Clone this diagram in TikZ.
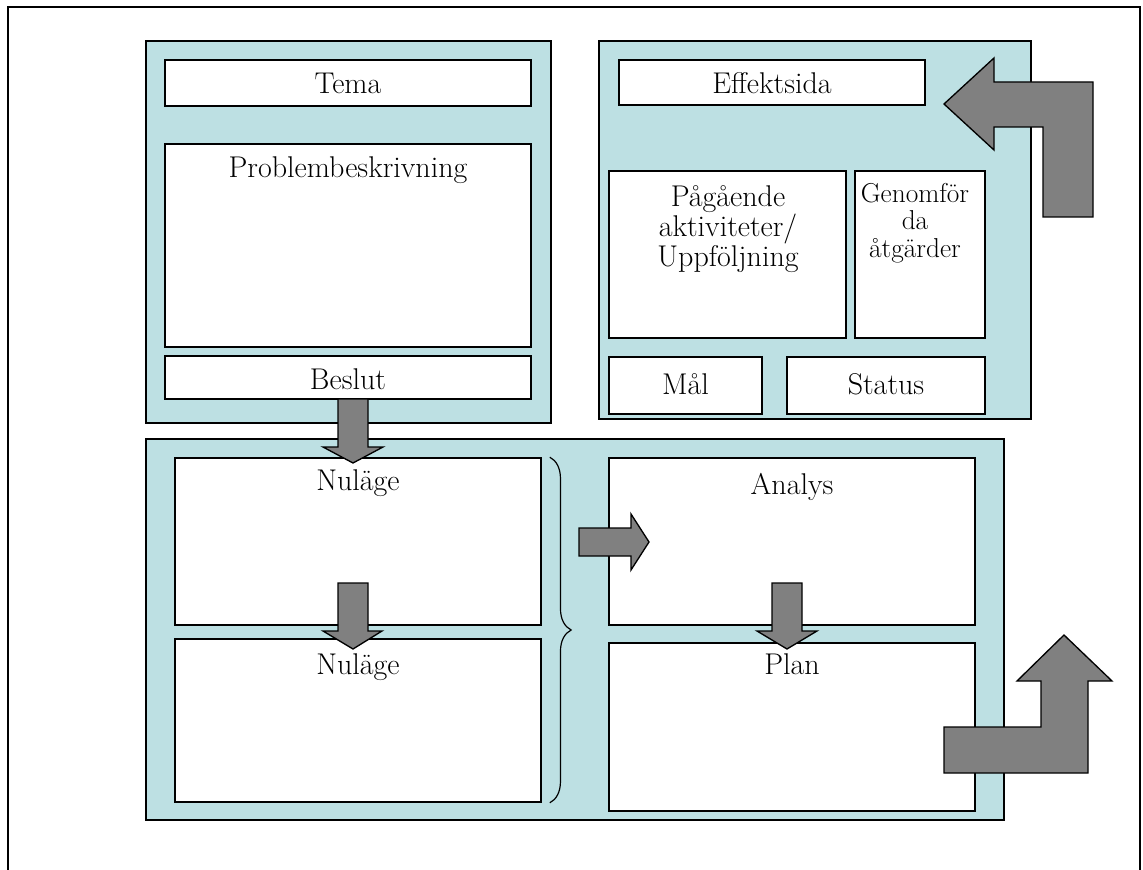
\documentclass[tikz,border=0pt]{standalone}
\usetikzlibrary{fit,decorations.pathreplacing}
\definecolor{panelblue}{RGB}{189,224,227}
\definecolor{arrowgray}{RGB}{128,128,128}
\begin{document}
\begin{tikzpicture}[x=0.75pt,y=-0.75pt,
  panel/.style={draw=black, line width=1.3pt, fill=panelblue, inner sep=0pt},
  box/.style={draw=black, line width=1.2pt, fill=white, inner sep=0pt},
  blockarrow/.style={draw=black, line width=1pt, fill=arrowgray, line join=miter},
  lbl/.style={font=\fontsize{22.5}{22.5}\selectfont, align=center, inner sep=0pt},
  smalllbl/.style={font=\fontsize{20.5}{20.5}\selectfont, align=center, inner sep=0pt},
  bracestyle/.style={decorate, decoration={brace, amplitude=16pt}, line width=0.9pt}]

\useasboundingbox (0,0) rectangle (1143,870);

% page frame (open at the bottom)
\draw[line width=1pt] (8,870) -- (8,7) -- (1140,7) -- (1140,870);

% panels
\node[panel, fit={(146,41)(551,423)}] (pleft) {};
\node[panel, fit={(599,41)(1031,419)}] (pright) {};
\node[panel, fit={(146,439)(1004,820)}] (pbottom) {};

% left panel boxes
\node[box, fit={(165,60)(531,106)}] (tema) {};
\node[box, fit={(165,144)(531,347)}] (problem) {};
\node[box, fit={(165,356)(531,399)}] (beslut) {};

% right panel boxes
\node[box, fit={(619,60)(925,105)}] (effekt) {};
\node[box, fit={(609,171)(846,338)}] (pagaende) {};
\node[box, fit={(855,171)(985,338)}] (genomford) {};
\node[box, fit={(609,357)(762,414)}] (mal) {};
\node[box, fit={(787,357)(985,414)}] (status) {};

% bottom panel boxes
\node[box, fit={(175,458)(541,625)}] (nulage1) {};
\node[box, fit={(175,639)(541,802)}] (nulage2) {};
\node[box, fit={(609,458)(975,625)}] (analys) {};
\node[box, fit={(609,643)(975,811)}] (plan) {};

% labels
\node[lbl, anchor=base] (tTema) at (tema.center |- 0,94) {Tema};
\node[lbl, anchor=base] (tProblem) at (problem.center |- 0,178) {Problembeskrivning};
\node[lbl, anchor=base] (tBeslut) at (beslut.center |- 0,389) {Beslut};
\node[lbl, anchor=base] (tEffekt) at (effekt.center |- 0,94) {Effektsida};
\node[lbl, anchor=north] (tPag) at (728,185) {Pågående\\aktiviteter/\\Uppföljning};
\node[smalllbl, anchor=north] (tGen) at (915,183) {Genomför\\da\\åtgärder};
\node[lbl, anchor=base] (tMal) at (mal.center |- 0,394) {Mål};
\node[lbl, anchor=base] (tStatus) at (status.center |- 0,394) {Status};
\node[lbl, anchor=base] (tNul1) at (nulage1.center |- 0,490) {Nuläge};
\node[lbl, anchor=base] (tNul2) at (nulage2.center |- 0,674) {Nuläge};
\node[lbl, anchor=base] (tAnalys) at (analys.center |- 0,494) {Analys};
\node[lbl, anchor=base] (tPlan) at (plan.center |- 0,674) {Plan};

% brace grouping the two Nuläge boxes
\draw[bracestyle] ([xshift=6pt]nulage1.north east) -- ([xshift=6pt]nulage2.south east);

% block arrows
\draw[blockarrow] (338,399) -- (368,399) -- (368,447) -- (383,447) -- (353,463)
  -- (323,447) -- (338,447) -- cycle;
\draw[blockarrow] (338,583) -- (368,583) -- (368,631) -- (382,631) -- (353,649)
  -- (323,631) -- (338,631) -- cycle;
\draw[blockarrow] (772,583) -- (802,583) -- (802,631) -- (817,631) -- (787,649)
  -- (757,631) -- (772,631) -- cycle;
\draw[blockarrow] (579,528) -- (631,528) -- (631,514) -- (649,542) -- (631,570)
  -- (631,556) -- (579,556) -- cycle;
\draw[blockarrow] (944,104) -- (994,58) -- (994,82) -- (1093,82) -- (1093,217)
  -- (1043,217) -- (1043,127) -- (994,127) -- (994,150) -- cycle;
\draw[blockarrow] (1064,635) -- (1112,681) -- (1088,681) -- (1088,773) -- (944,773)
  -- (944,727) -- (1041,727) -- (1041,681) -- (1017,681) -- cycle;
\end{tikzpicture}
\end{document}
